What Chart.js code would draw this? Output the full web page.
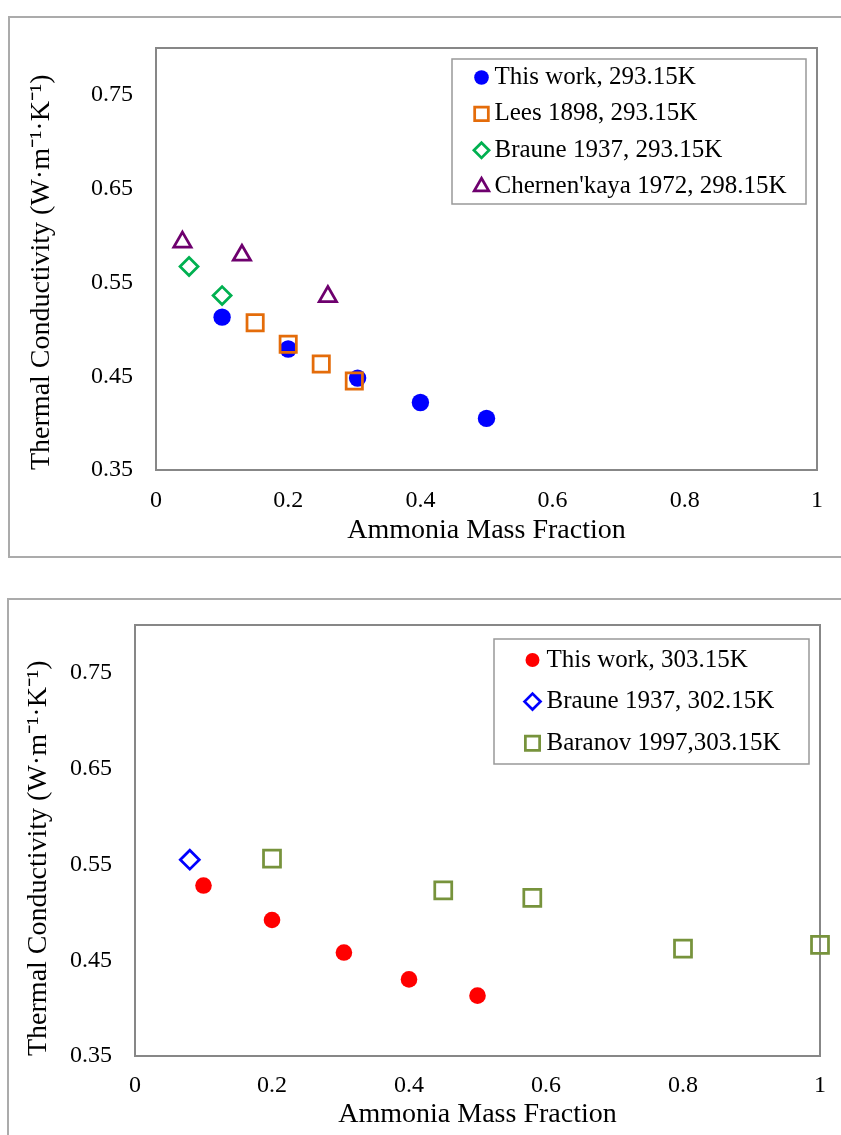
<!DOCTYPE html>
<html>
<head>
<meta charset="utf-8">
<script src="https://cdn.jsdelivr.net/npm/chart.js@4.4.1/dist/chart.umd.min.js"></script>
<style>
  html, body { margin: 0; padding: 0; background: #fff; overflow: hidden; }
  body { width: 841px; height: 1135px; position: relative; }
  .frame { position: absolute; border: 2px solid #ababab; box-sizing: border-box; }
  #frameTop { left: 8px; top: 16px; width: 900px; height: 542px; }
  #frameBottom { left: 7px; top: 598px; width: 900px; height: 600px; }
  canvas { position: absolute; left: 0; }
  #chartTop { top: 0; }
  #chartBottom { top: 580px; }
</style>
</head>
<body>
<div class="frame" id="frameTop"></div>
<div class="frame" id="frameBottom"></div>
<canvas id="chartTop" width="841" height="580"></canvas>
<canvas id="chartBottom" width="841" height="555"></canvas>
<script>
// axis text
const xLabel = 'Ammonia Mass Fraction';
const yLabel = 'Thermal Conductivity (W·m⁻¹·K⁻¹)';
const xTicks = [0, 0.2, 0.4, 0.6, 0.8, 1];
const yTicks = [0.35, 0.45, 0.55, 0.65, 0.75];

// top chart, ~293 K
const thisWork293X = [0.1, 0.2, 0.305, 0.4, 0.5];
const thisWork293Y = [0.513, 0.479, 0.448, 0.422, 0.405];
const lees1898X = [0.15, 0.2, 0.25, 0.3];
const lees1898Y = [0.507, 0.484, 0.463, 0.445];
const braune293X = [0.05, 0.1];
const braune293Y = [0.567, 0.536];
const chernenkayaX = [0.04, 0.13, 0.26];
const chernenkayaY = [0.593, 0.579, 0.535];

// bottom chart, ~303 K
const thisWork303X = [0.1, 0.2, 0.305, 0.4, 0.5];
const thisWork303Y = [0.528, 0.492, 0.458, 0.430, 0.413];
const braune302X = [0.08];
const braune302Y = [0.555];
const baranovX = [0.2, 0.45, 0.58, 0.8, 1.0];
const baranovY = [0.556, 0.523, 0.515, 0.462, 0.466];

const serif = "'Liberation Serif', 'Times New Roman', serif";
const tickFont = { family: serif, size: 24 };
const titleFont = { family: serif, size: 28 };

function points(xs, ys) {
  return xs.map((x, i) => ({ x: x, y: ys[i] }));
}

// hollow / filled marker dataset
function series(label, xs, ys, style, color, radius, filled) {
  return {
    label: label,
    data: points(xs, ys),
    pointStyle: style,
    pointRadius: radius,
    pointHoverRadius: radius,
    backgroundColor: filled ? color : 'rgba(0,0,0,0)',
    borderColor: color,
    borderWidth: filled ? 0 : 2.75,
    clip: false
  };
}

// gray box round the plot area, drawn under the markers
const plotFrame = {
  id: 'plotFrame',
  beforeDatasetsDraw(chart) {
    const a = chart.chartArea;
    const ctx = chart.ctx;
    ctx.save();
    ctx.strokeStyle = '#878787';
    ctx.lineWidth = 2;
    ctx.strokeRect(a.left, a.top, a.right - a.left, a.bottom - a.top);
    ctx.restore();
  }
};

// Excel-like legend in a box inside the plot
const boxLegend = {
  id: 'boxLegend',
  afterDraw(chart, args, opts) {
    const a = chart.chartArea;
    const ctx = chart.ctx;
    const x0 = a.right - opts.right - opts.width;
    const y0 = a.top + opts.top;
    ctx.save();
    ctx.fillStyle = '#fff';
    ctx.fillRect(x0, y0, opts.width, opts.height);
    ctx.strokeStyle = '#999';
    ctx.lineWidth = 1.5;
    ctx.strokeRect(x0, y0, opts.width, opts.height);
    chart.data.datasets.forEach((ds, i) => {
      const cy = y0 + opts.firstRow + i * opts.rowGap;
      ctx.fillStyle = ds.backgroundColor;
      ctx.strokeStyle = ds.borderColor;
      ctx.lineWidth = ds.borderWidth;
      Chart.helpers.drawPoint(ctx, {
        pointStyle: ds.pointStyle,
        radius: ds.pointRadius * 0.84,
        borderWidth: ds.borderWidth,
        rotation: 0
      }, x0 + opts.markerX, cy);
      ctx.fillStyle = '#000';
      ctx.font = '25px ' + serif;
      ctx.textAlign = 'left';
      ctx.textBaseline = 'middle';
      ctx.fillText(ds.label, x0 + opts.textX, cy);
    });
    ctx.restore();
  }
};

function makeChart(id, datasets, lay, legend) {
  // later series on top, as in the original
  datasets.forEach((ds, i) => { ds.order = datasets.length - i; });
  return new Chart(document.getElementById(id), {
    type: 'scatter',
    data: { datasets: datasets },
    plugins: [plotFrame, boxLegend],
    options: {
      responsive: false,
      animation: false,
      layout: { padding: lay.padding },
      plugins: {
        legend: { display: false },
        tooltip: { enabled: false },
        boxLegend: legend
      },
      scales: {
        x: {
          type: 'linear',
          min: 0,
          max: 1,
          afterBuildTicks: s => { s.ticks = xTicks.map(v => ({ value: v })); },
          afterFit: s => { s.height = lay.xHeight; },
          grid: { display: false, drawTicks: false },
          border: { display: false },
          ticks: { padding: lay.xTickPad, color: '#000', font: tickFont, maxRotation: 0, autoSkip: false, callback: v => String(v) },
          title: { display: true, text: xLabel, color: '#000', font: titleFont, padding: { top: 0, bottom: lay.xTitlePad } }
        },
        y: {
          type: 'linear',
          min: 0.35,
          max: 0.8,
          afterBuildTicks: s => { s.ticks = yTicks.map(v => ({ value: v })); },
          afterFit: s => { s.width = lay.yWidth; },
          grid: { display: false, drawTicks: false },
          border: { display: false },
          ticks: { padding: 23, color: '#000', font: tickFont, autoSkip: false, callback: v => String(v) },
          title: { display: true, text: yLabel, color: '#000', font: titleFont, align: 'start', padding: { top: lay.yTitlePad, bottom: 0 } }
        }
      }
    }
  });
}

makeChart('chartTop', [
  series('This work, 293.15K', thisWork293X, thisWork293Y, 'circle', '#0000FF', 8.7, true),
  series('Lees 1898, 293.15K', lees1898X, lees1898Y, 'rect', '#E46C0A', 11.5, false),
  series('Braune 1937, 293.15K', braune293X, braune293Y, 'rectRot', '#00B050', 9, false),
  series("Chernen'kaya 1972, 298.15K", chernenkayaX, chernenkayaY, 'triangle', '#6E006E', 10, false)
], {
  padding: { top: 48, right: 24, bottom: 10, left: 0 },
  xHeight: 100, yWidth: 156, xTickPad: 16, xTitlePad: 23, yTitlePad: 25
}, {
  right: 11, top: 11, width: 354, height: 145, firstRow: 18.5, rowGap: 36.4, markerX: 29.5, textX: 42.5
});

makeChart('chartBottom', [
  series('This work, 303.15K', thisWork303X, thisWork303Y, 'circle', '#FF0000', 8.3, true),
  series('Braune 1937, 302.15K', braune302X, braune302Y, 'rectRot', '#0000FF', 9.5, false),
  series('Baranov 1997,303.15K', baranovX, baranovY, 'rect', '#77933C', 12, false)
], {
  padding: { top: 45, right: 18, bottom: 0, left: 0 },
  xHeight: 79, yWidth: 135, xTickPad: 15, xTitlePad: 4, yTitlePad: 22
}, {
  right: 11, top: 14, width: 315, height: 125, firstRow: 21, rowGap: 41.6, markerX: 38.5, textX: 52.5
});
</script>
</body>
</html>
